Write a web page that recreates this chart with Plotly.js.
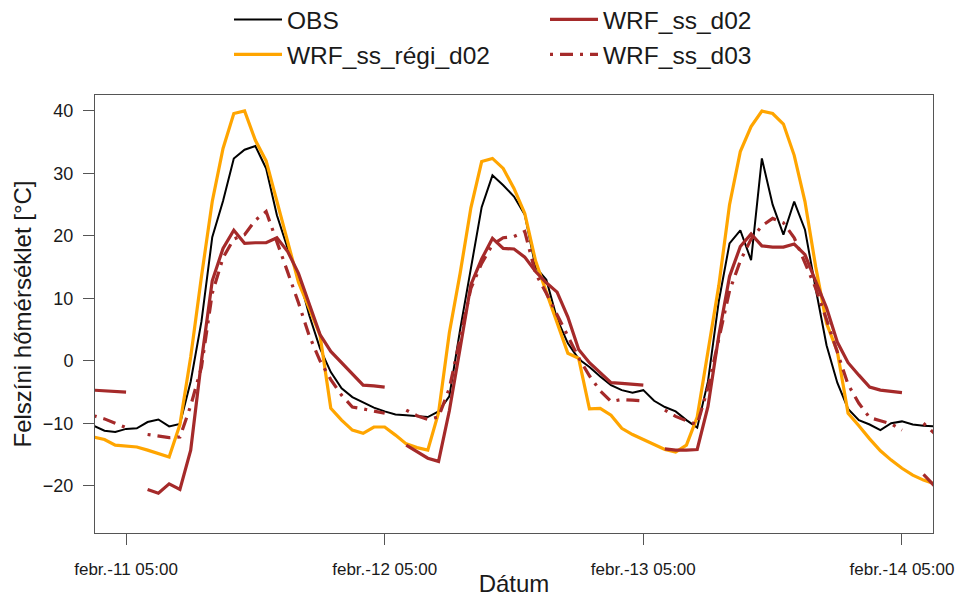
<!DOCTYPE html>
<html>
<head>
<meta charset="utf-8">
<script src="https://cdn.plot.ly/plotly-3.0.1.min.js"></script>
<style>html,body{margin:0;padding:0;background:#fff;}#chart{width:956px;height:597px;}</style>
</head>
<body>
<div id="chart"></div>
<script>
// hourly time stamps: Feb 11 02:00 .. Feb 14 08:00 (79 points)
const startTime = "2021-02-11T02:00:00";
const nHours = 79;

const obs = [-10.4,-11.2,-11.4,-10.9,-10.8,-9.8,-9.4,-10.5,-10.1,-3.3,6.3,19.8,25.6,32.4,33.8,34.4,30.8,23.3,18.0,13.7,7.3,2.0,-1.8,-4.4,-5.8,-6.6,-7.5,-8.1,
  -8.6,-8.7,-8.8,-9.0,-8.1,-5.7,5.0,14.8,24.6,29.7,28.1,26.3,23.4,15.0,13.0,6.7,2.8,0.3,-1.0,-2.5,-3.9,-4.7,-5.1,-4.7,
  -6.4,-7.4,-8.1,-9.5,-10.7,-3.3,9.5,18.8,20.9,16.1,32.4,25.0,20.2,25.5,21.0,11.5,2.5,-3.5,-7.7,-9.5,-10.2,-11.1,-10.0,-9.7,-10.2,-10.4,-10.5];

const regi = [-12.2,-12.6,-13.5,-13.7,-13.8,-14.3,-14.9,-15.4,-10.2,0.6,13.5,25.5,34.0,39.6,40.0,35.3,32.0,25.5,19.1,12.6,8.4,4.1,-7.6,-9.5,-11.1,-11.6,-10.6,-10.6,
  -11.9,-13.3,-13.9,-14.3,-8.3,4.5,14.0,24.5,31.9,32.4,30.8,27.6,23.6,16.0,11.0,6.1,1.2,0.4,-7.7,-7.6,-8.7,-10.8,-11.8,-12.6,
  -13.4,-14.2,-14.6,-13.5,-9.0,1.5,12.0,25.0,33.5,37.5,40.0,39.6,37.9,32.9,25.5,15.0,6.0,1.5,-8.4,-10.4,-12.5,-14.4,-15.9,-17.2,-18.3,-19.1,-19.7];

const ssD02 = [-4.7,-4.8,-4.9,-5.0,null,-20.6,-21.2,-19.7,-20.6,-14.3,0.0,12.8,18.0,20.9,18.8,18.9,18.9,19.7,17.5,14.0,9.0,4.2,1.5,-0.3,-2.1,-3.9,-4.0,-4.2,
  null,-13.5,-14.6,-15.6,-16.1,-8.0,2.0,12.2,16.3,19.6,18.0,17.9,16.6,14.3,12.5,11.0,7.0,1.8,-0.3,-1.9,-3.5,-3.6,-3.8,-3.9,
  null,-14.1,-14.3,-14.3,-14.2,-7.3,4.0,13.5,18.3,20.3,18.4,18.2,18.2,18.7,17.0,12.7,8.5,3.0,-0.3,-2.3,-4.2,-4.7,-4.9,-5.1,null,-18.2,-20.0];

const ssD03 = [-8.8,-9.3,-10.0,-10.7,null,-11.8,-12.1,-12.3,-12.2,-7.2,-1.0,10.8,16.5,19.5,20.2,22.5,23.9,19.2,14.2,9.3,4.0,0.0,-3.0,-5.5,-7.4,-7.7,-8.1,-8.4,
  null,-7.9,-8.8,-9.4,-9.0,-4.4,3.6,11.6,15.6,18.6,19.7,19.9,20.7,14.0,10.8,7.4,4.0,0.5,-2.4,-4.8,-6.5,-6.2,-6.3,-6.4,
  null,-7.9,-8.9,-9.6,-10.2,-4.3,3.7,11.2,16.0,19.5,21.6,22.8,22.1,19.7,15.7,11.6,6.6,1.3,-3.8,-6.8,-9.1,-9.6,-10.1,-11.1,null,-10.0,-11.6];

const seriesNames = ["OBS", "WRF_ss_régi_d02", "WRF_ss_d02", "WRF_ss_d03"];
const tickVals = ["2021-02-11 05:00", "2021-02-12 05:00", "2021-02-13 05:00", "2021-02-14 05:00"];
const tickText = ["febr.-11 05:00", "febr.-12 05:00", "febr.-13 05:00", "febr.-14 05:00"];
const xRange = ["2021-02-11 02:07:12", "2021-02-14 07:52:48"];
const yRange = [-27.57, 42.56];

function pad(n){return (n<10?"0":"")+n;}
const times = [];
{
  const t0 = new Date(startTime + "Z").getTime();
  for (let i = 0; i < nHours; i++) {
    const d = new Date(t0 + i * 3600000);
    times.push(d.getUTCFullYear()+"-"+pad(d.getUTCMonth()+1)+"-"+pad(d.getUTCDate())+" "+pad(d.getUTCHours())+":00");
  }
}

const FONT = "'Liberation Sans', Arial, sans-serif";
const traces = [
  {x: times, y: obs, name: seriesNames[0], mode: "lines", line: {color: "#000000", width: 2}, legendrank: 1},
  {x: times, y: regi, name: seriesNames[1], mode: "lines", line: {color: "#FFA500", width: 3.2}, legendrank: 3},
  {x: times, y: ssD02, name: seriesNames[2], mode: "lines", line: {color: "#A52A2A", width: 3.2}, legendrank: 2},
  {x: times, y: ssD03, name: seriesNames[3], mode: "lines", line: {color: "#A52A2A", width: 3.2, dash: "3px,7px,13px,7px"}, legendrank: 4}
];

const layout = {
  width: 956, height: 597,
  margin: {l: 95, r: 23, t: 95, b: 64, autoexpand: false},
  paper_bgcolor: "#ffffff", plot_bgcolor: "#ffffff",
  font: {family: FONT, color: "#1a1a1a"},
  showlegend: true,
  legend: {
    orientation: "h", x: (229 - 95) / 838, xanchor: "left", y: (533 + 3) / 438, yanchor: "top",
    font: {size: 24.5, family: FONT, color: "#1a1a1a"},
    itemwidth: 48, entrywidth: 253, bgcolor: "rgba(0,0,0,0)", traceorder: "normal",
    tracegroupgap: 0
  },
  xaxis: {
    type: "date", range: xRange, tickvals: tickVals, ticktext: tickText,
    showgrid: false, zeroline: false, showline: true, mirror: true, linecolor: "#555", linewidth: 1,
    ticks: "outside", ticklen: 11, tickcolor: "#555", tickwidth: 1,
    tickfont: {size: 17, family: FONT, color: "#1a1a1a"}, ticklabelstandoff: 10,
    title: {text: "Dátum", font: {size: 24, family: FONT, color: "#1a1a1a"}, standoff: 0}
  },
  yaxis: {
    range: yRange, tickvals: [-20, -10, 0, 10, 20, 30, 40],
    showgrid: false, zeroline: false, showline: true, mirror: true, linecolor: "#555", linewidth: 1,
    ticks: "outside", ticklen: 11, tickcolor: "#555", tickwidth: 1,
    tickfont: {size: 18, family: FONT, color: "#1a1a1a"}, ticklabelstandoff: 6,
    title: {text: "Felszíni hőmérséklet [°C]", font: {size: 24, family: FONT, color: "#1a1a1a"}, standoff: 4}
  }
};

Plotly.newPlot("chart", traces, layout, {displayModeBar: false, staticPlot: true});
</script>
</body>
</html>
